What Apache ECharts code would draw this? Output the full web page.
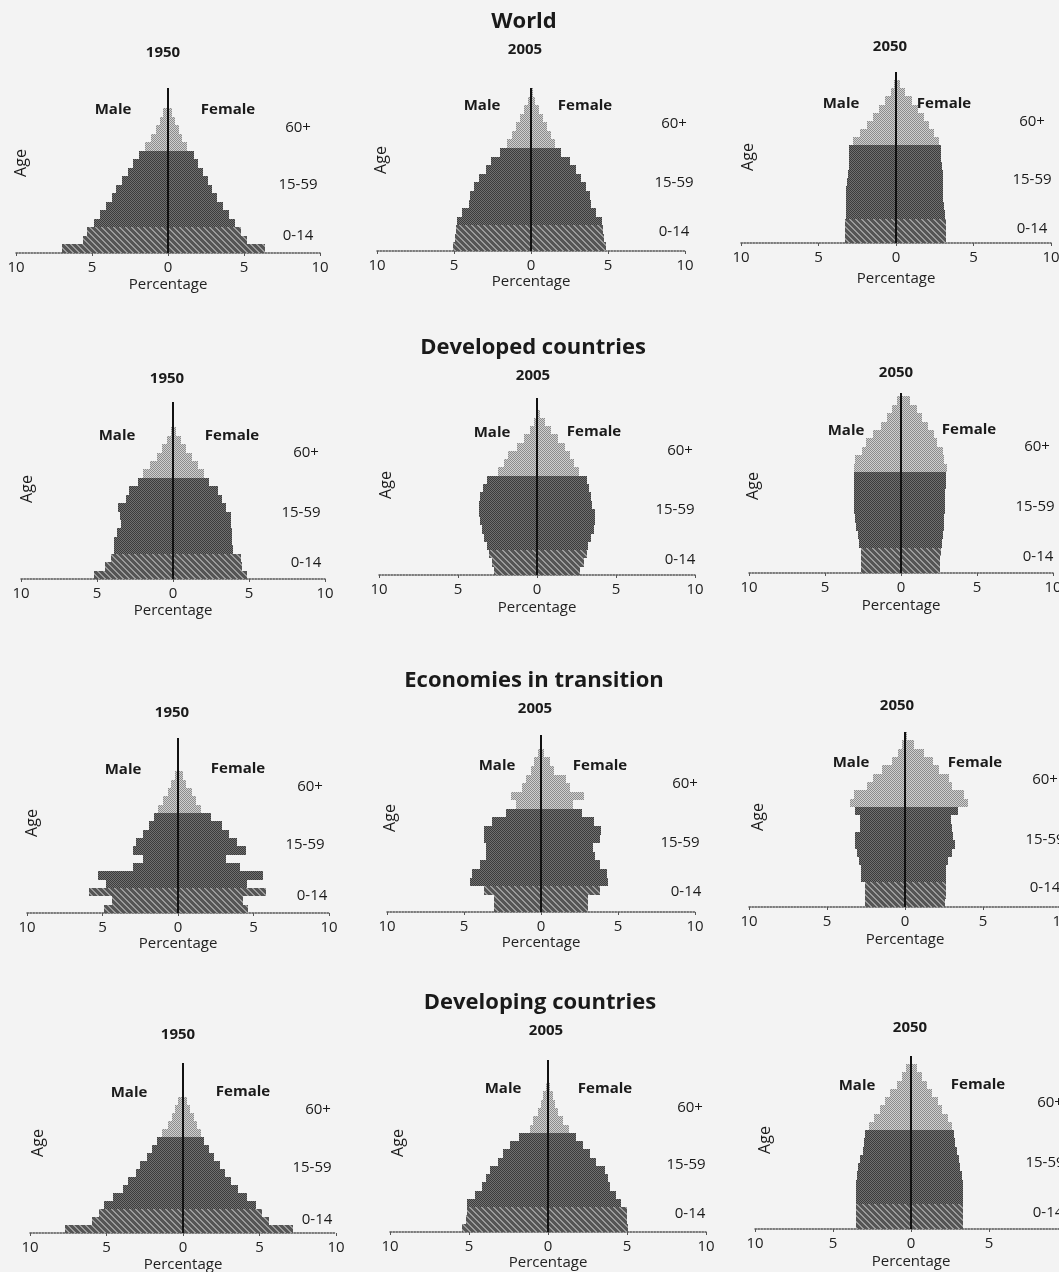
<!DOCTYPE html>
<html><head><meta charset="utf-8">
<script src="https://cdn.jsdelivr.net/npm/echarts/dist/echarts.min.js"></script>
<style>html,body{margin:0;padding:0;background:#f3f3f3}#c{width:1059px;height:1272px}</style>
</head><body><div id="c"></div>
<script>
// ---------- data ----------
const AGE_GROUPS = ['0-4','5-9','10-14','15-19','20-24','25-29','30-34','35-39','40-44','45-49','50-54','55-59','60-64','65-69','70-74','75-79','80-84','85-89','90-94','95-99','100+'];
const GROUP_BAND = [0,0,0,1,1,1,1,1,1,1,1,1,2,2,2,2,2,2,2,2,2];
const BAND_LABELS = ['0-14','15-59','60+'];
const REGIONS = ['World','Developed countries','Economies in transition','Developing countries'];
const YEARS = ['1950','2005','2050'];
const SEX_LABELS = ['Male','Female'];
const X_AXIS_NAME = 'Percentage';
const Y_AXIS_NAME = 'Age';

const WORLD_1950_M = [7.0,5.6,5.3,4.9,4.5,4.1,3.7,3.4,3.0,2.6,2.3,1.9,1.5,1.1,0.8,0.55,0.3,0,0,0,0];
const WORLD_1950_F = [6.4,5.2,4.8,4.4,4.0,3.6,3.2,2.9,2.6,2.3,2.0,1.7,1.25,0.95,0.7,0.45,0.25,0,0,0,0];
const WORLD_2005_M = [5.05,4.95,4.9,4.8,4.45,4.05,3.95,3.7,3.35,2.95,2.6,2.0,1.55,1.25,1.0,0.7,0.45,0.2,0.08,0.02,0];
const WORLD_2005_F = [4.85,4.75,4.7,4.6,4.25,3.9,3.8,3.6,3.25,2.9,2.55,1.95,1.55,1.3,1.05,0.8,0.55,0.28,0.1,0.03,0];
const WORLD_2050_M = [3.3,3.3,3.3,3.25,3.25,3.2,3.2,3.15,3.1,3.05,3.05,3.05,2.75,2.3,1.85,1.5,1.1,0.7,0.35,0.1,0.02];
const WORLD_2050_F = [3.25,3.2,3.2,3.15,3.1,3.05,3.05,3.0,3.0,2.95,2.9,2.9,2.75,2.45,2.15,1.8,1.45,1.0,0.6,0.25,0.05];

const DEV_1950_M = [5.2,4.45,4.1,3.9,3.85,3.7,3.45,3.5,3.65,3.1,2.9,2.3,2.0,1.5,1.05,0.7,0.4,0.15,0.04,0,0];
const DEV_1950_F = [4.9,4.55,4.45,3.95,3.85,3.9,3.8,3.8,3.5,3.2,2.95,2.4,2.05,1.65,1.25,0.85,0.5,0.22,0.06,0,0];
const DEV_2005_M = [2.75,2.85,3.05,3.15,3.35,3.5,3.6,3.7,3.7,3.6,3.4,3.15,2.45,2.1,1.85,1.25,0.8,0.45,0.18,0.05,0.01];
const DEV_2005_F = [2.75,2.95,3.15,3.25,3.4,3.6,3.7,3.65,3.5,3.4,3.3,3.15,2.65,2.35,2.1,1.75,1.35,0.9,0.5,0.2,0.05];
const DEV_2050_M = [2.65,2.65,2.65,2.75,2.85,2.95,3.0,3.1,3.1,3.1,3.1,3.1,3.1,3.0,2.55,2.3,1.85,1.3,0.95,0.6,0.25];
const DEV_2050_F = [2.55,2.55,2.6,2.7,2.75,2.8,2.85,2.9,2.9,2.9,2.95,2.95,3.0,2.85,2.75,2.4,2.15,1.75,1.4,1.05,0.6];

const TRANS_1950_M = [4.9,4.4,5.9,4.8,5.3,3.0,2.35,3.0,2.8,2.35,1.9,1.6,1.3,1.0,0.65,0.45,0.2,0,0,0,0];
const TRANS_1950_F = [4.65,4.3,5.8,4.6,5.6,4.1,3.2,4.5,3.9,3.4,2.9,2.2,1.55,1.2,0.9,0.55,0.3,0,0,0,0];
const TRANS_2005_M = [3.05,3.05,3.7,4.6,4.5,3.95,3.6,3.6,3.7,3.7,3.2,2.3,1.6,1.95,1.25,1.0,0.65,0.45,0.22,0.06,0.01];
const TRANS_2005_F = [3.05,3.05,3.8,4.35,4.3,3.8,3.5,3.35,3.8,3.9,3.45,2.65,2.1,2.8,1.9,1.65,0.85,0.6,0.2,0.05,0.01];
const TRANS_2050_M = [2.55,2.55,2.55,2.85,2.85,2.95,3.1,3.2,3.2,2.9,2.9,3.2,3.5,3.3,2.45,2.05,1.5,0.85,0.45,0.2,0.05];
const TRANS_2050_F = [2.55,2.6,2.6,2.6,2.65,2.75,3.0,3.2,3.1,3.0,2.95,3.4,4.05,3.75,3.0,2.8,2.15,1.8,1.2,0.55,0.15];

const DEVG_1950_M = [7.7,5.95,5.5,5.15,4.55,3.9,3.6,3.1,2.8,2.35,2.0,1.7,1.35,1.0,0.7,0.5,0.3,0,0,0,0];
const DEVG_1950_F = [7.2,5.65,5.15,4.8,4.2,3.6,3.15,2.75,2.45,2.05,1.7,1.4,1.15,0.9,0.7,0.45,0.25,0,0,0,0];
const DEVG_2005_M = [5.45,5.2,5.15,5.1,4.6,4.2,3.9,3.7,3.15,2.85,2.4,1.85,1.15,0.95,0.65,0.42,0.3,0.1,0.02,0,0];
const DEVG_2005_F = [5.05,5.0,5.0,4.65,4.3,3.95,3.8,3.6,3.05,2.65,2.2,1.75,1.3,0.95,0.65,0.45,0.3,0.12,0.03,0,0];
const DEVG_2050_M = [3.5,3.5,3.5,3.5,3.5,3.5,3.45,3.4,3.25,3.05,3.0,2.95,2.7,2.4,2.0,1.65,1.35,0.9,0.58,0.35,0.05];
const DEVG_2050_F = [3.35,3.35,3.35,3.35,3.35,3.35,3.3,3.15,3.05,2.95,2.85,2.75,2.65,2.35,2.0,1.7,1.35,1.05,0.7,0.38,0.08];

const PANEL_DATA = [
  [WORLD_1950_M, WORLD_1950_F],[WORLD_2005_M, WORLD_2005_F],[WORLD_2050_M, WORLD_2050_F],
  [DEV_1950_M, DEV_1950_F],[DEV_2005_M, DEV_2005_F],[DEV_2050_M, DEV_2050_F],
  [TRANS_1950_M, TRANS_1950_F],[TRANS_2005_M, TRANS_2005_F],[TRANS_2050_M, TRANS_2050_F],
  [DEVG_1950_M, DEVG_1950_F],[DEVG_2005_M, DEVG_2005_F],[DEVG_2050_M, DEVG_2050_F]
];

// ---------- layout ----------
const REGION_POS = [[524,22],[533,348],[534,681],[540,1003]];
const PANELS = [
 {zero:168,s:15.2,top:88,base:253,yMax:97, year:[163,53], male:[113,110],female:[228,110],bands:[[298,236],[298,185],[298,128]],age:[21,163],percY:285},
 {zero:531,s:15.4,top:88,base:251,yMax:95, year:[525,50], male:[482,106],female:[585,106],bands:[[674,232],[674,183],[674,124]],age:[381,160],percY:282},
 {zero:896,s:15.5,top:72,base:243,yMax:105,year:[890,47], male:[841,104],female:[944,104],bands:[[1032,229],[1032,180],[1032,122]],age:[748,157],percY:279},
 {zero:173,s:15.2,top:402,base:579,yMax:105,year:[167,379],male:[117,436],female:[232,436],bands:[[306,563],[301,513],[306,453]],age:[27,489],percY:611},
 {zero:537,s:15.8,top:398,base:575,yMax:107,year:[533,376],male:[492,433],female:[594,432],bands:[[680,560],[675,510],[680,451]],age:[386,485],percY:608},
 {zero:901,s:15.2,top:393,base:573,yMax:107,year:[896,373],male:[846,431],female:[969,430],bands:[[1038,557],[1035,507],[1037,447]],age:[753,486],percY:606},
 {zero:178,s:15.1,top:738,base:913,yMax:105,year:[172,713],male:[123,770],female:[238,769],bands:[[312,896],[305,845],[310,787]],age:[32,823],percY:944},
 {zero:541,s:15.4,top:735,base:912,yMax:103,year:[535,709],male:[497,766],female:[600,766],bands:[[686,892],[680,843],[685,784]],age:[390,818],percY:942},
 {zero:905,s:15.6,top:732,base:907,yMax:105,year:[897,706],male:[851,763],female:[975,763],bands:[[1045,888],[1045,840],[1045,780]],age:[758,817],percY:940},
 {zero:183,s:15.3,top:1063,base:1233,yMax:106,year:[178,1035],male:[129,1093],female:[243,1092],bands:[[317,1220],[312,1168],[318,1110]],age:[38,1143],percY:1265},
 {zero:548,s:15.8,top:1060,base:1232,yMax:104,year:[546,1031],male:[503,1089],female:[605,1089],bands:[[690,1214],[686,1165],[690,1108]],age:[398,1143],percY:1263},
 {zero:911,s:15.6,top:1056,base:1229,yMax:105,year:[910,1028],male:[857,1086],female:[978,1085],bands:[[1048,1213],[1045,1163],[1050,1103]],age:[765,1140],percY:1262}
];

// ---------- fill patterns ----------
function makePattern(w, h, base, draw){
  const cv = document.createElement('canvas'); cv.width = w; cv.height = h;
  const ctx = cv.getContext('2d'); ctx.fillStyle = base; ctx.fillRect(0,0,w,h); draw(ctx);
  return {image: cv, repeat: 'repeat'};
}
const PATTERNS = [
  makePattern(6,6,'#555555',ctx=>{ctx.fillStyle='#9a9a9a'; for(let i=0;i<6;i++){ctx.fillRect(i,i,1,1);ctx.fillRect((i+1)%6,i,1,1);} }),
  makePattern(2,2,'#3c3c3c',ctx=>{ctx.fillStyle='#707070'; ctx.fillRect(1,0,1,1); ctx.fillRect(0,1,1,1);}),
  makePattern(2,2,'#cfcfcf',ctx=>{ctx.fillStyle='#8c8c8c'; ctx.fillRect(0,0,1,1); ctx.fillRect(1,1,1,1);})
];

function renderBar(params, api){
  const v = api.value(0), a0 = api.value(1), a1 = api.value(2), band = api.value(3);
  if (!v) return null;
  const p0 = api.coord([0, a0]), p1 = api.coord([v, a1]);
  const x0 = Math.round(Math.min(p0[0], p1[0])), x1 = Math.round(Math.max(p0[0], p1[0]));
  const y0 = Math.round(p1[1]), y1 = Math.round(p0[1]);
  return {type:'rect', shape:{x:x0, y:y0, width:x1-x0, height:y1-y0}, style:{fill: PATTERNS[band]}};
}

const FONT = '"Open Sans", "Noto Sans", sans-serif';
const grids = [], xAxes = [], yAxes = [], series = [], graphics = [];

PANELS.forEach((p, k) => {
  grids.push({left: p.zero - 10*p.s, width: 20*p.s, top: p.top, height: p.base - p.top, containLabel:false, outerBoundsMode:'none'});
  xAxes.push({
    type:'value', gridIndex:k, min:-10, max:10, interval:5,
    axisLine:{show:true, onZero:false, lineStyle:{type:'dotted', color:'#555', width:1.5}},
    axisTick:{show:true, length:3, lineStyle:{color:'#555'}},
    splitLine:{show:false},
    axisLabel:{formatter: v => String(Math.abs(v)), fontFamily:FONT, fontSize:15, color:'#222', margin:7},
    name: X_AXIS_NAME, nameLocation:'middle', nameGap: p.percY - p.base - 8,
    nameTextStyle:{fontFamily:FONT, fontSize:15, color:'#222', verticalAlign:'top'}
  });
  yAxes.push({type:'value', gridIndex:k, min:0, max:p.yMax, show:false});
  const [M, F] = PANEL_DATA[k];
  const mk = (arr, sign) => arr.map((v, i) => [sign*v, i*5, i*5+5, GROUP_BAND[i]]);
  series.push({
    type:'custom', xAxisIndex:k, yAxisIndex:k, renderItem:renderBar, clip:true,
    encode:{x:0, y:1}, data: mk(M, -1), silent:true,
    markLine:{silent:true, symbol:['none','none'], label:{show:false}, animation:false,
      lineStyle:{type:'solid', color:'#111', width:2}, data:[{xAxis:0}]}
  });
  series.push({
    type:'custom', xAxisIndex:k, yAxisIndex:k, renderItem:renderBar, clip:true,
    encode:{x:0, y:1}, data: mk(F, 1), silent:true, z:1
  });
});

function txt(t, pos, size, weight, extra){
  return Object.assign({type:'text', x:pos[0], y:pos[1], silent:true,
    style:{text:t, fontFamily:FONT, fontSize:size, fontWeight:weight, fill:'#1a1a1a', align:'center', verticalAlign:'middle'}}, extra||{});
}
REGIONS.forEach((r, i) => graphics.push(txt(r, REGION_POS[i], 22, 'bold')));
PANELS.forEach((p, k) => {
  graphics.push(txt(YEARS[k % 3], p.year, 15, 'bold'));
  graphics.push(txt(SEX_LABELS[0], p.male, 15, 'bold'));
  graphics.push(txt(SEX_LABELS[1], p.female, 15, 'bold'));
  BAND_LABELS.forEach((b, j) => graphics.push(txt(b, p.bands[j], 15, 'normal')));
  graphics.push(txt(Y_AXIS_NAME, p.age, 16, 'normal', {rotation: Math.PI/2}));
});

const chart = echarts.init(document.getElementById('c'), null, {renderer:'canvas'});
chart.setOption({
  backgroundColor:'#f3f3f3', animation:false,
  grid:grids, xAxis:xAxes, yAxis:yAxes, series:series, graphic:graphics
});
</script></body></html>
